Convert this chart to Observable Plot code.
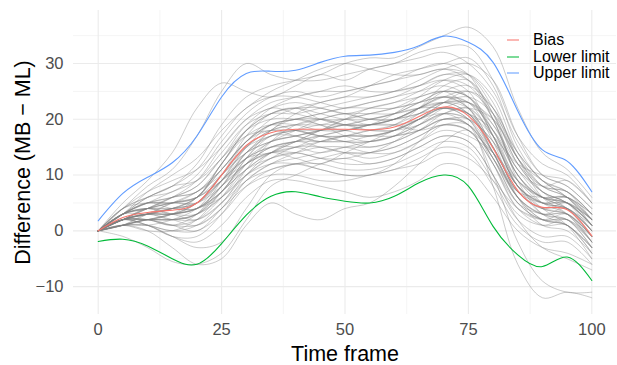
<!DOCTYPE html>
<html>
<head>
<meta charset="utf-8">
<script src="https://cdn.jsdelivr.net/npm/d3@7"></script>
<script src="https://cdn.jsdelivr.net/npm/@observablehq/plot@0.6"></script>
<style>
  body { margin: 0; background: #fff; font-family: "Liberation Sans", Arial, sans-serif; }
  #chart { position: relative; width: 617px; height: 365px; }
  #legend { position: absolute; left: 506px; top: 32px; font-size: 16px; color: #000; }
  #legend .row { display: flex; align-items: center; height: 16.5px; line-height: 16px; white-space: nowrap; }
  #legend svg { margin-right: 13px; }
</style>
</head>
<body>
<div id="chart"><div id="legend"></div></div>
<script>
// Time frame sampled every 5 units
const frames = [0, 5, 10, 15, 20, 25, 30, 35, 40, 45, 50, 55, 60, 65, 70, 75, 80, 85, 90, 95, 100];

// Summary curves (mean difference and 95% limits of agreement)
const bias       = [0, 2.4, 3.3, 3.7, 5.0, 10.0, 15.3, 17.6, 18.2, 18.2, 18.2, 18.1, 18.6, 20.5, 22.2, 20.6, 14.8, 7.2, 4.2, 3.8, -0.9];
const lowerLimit = [-1.9, -1.5, -2.7, -5.0, -6.0, -2.3, 2.8, 6.2, 7.0, 6.1, 5.3, 5.0, 6.2, 8.6, 10.0, 8.0, 0.8, -4.3, -6.4, -4.7, -8.9];
const upperLimit = [1.8, 6.7, 9.6, 12.2, 17.0, 24.0, 28.2, 28.6, 28.8, 30.2, 31.3, 31.5, 32.0, 33.2, 34.9, 33.8, 30.2, 21.5, 14.5, 12.5, 7.0];

// Individual difference curves (MB - ML), one row per subject
const traces = [
  [0, 4, 8, 11, 17, 25, 30, 28, 27, 27, 28, 29, 30, 31, 32, 30, 25, 16, 10, 8, 4],
  [0, 5, 9, 14, 22, 26.5, 25, 24, 26, 28, 27, 29, 30, 32, 33, 33, 27, 17, 12, 10, 5],
  [0, 3, 6, 8, 12, 19, 24, 26, 27, 28, 30, 31, 31, 33, 35, 36.5, 33, 22, 14, 11, 6],
  [0, 1, 0, -3, -6, -5, 1, 5, 3, 2, 4, 5, 8, 12, 16, 18, 10, -2, -9, -11, -11],
  [0, 2, 1, -1, -3, -2, 4, 10, 12, 11, 10, 10, 12, 16, 20, 19, 8, -6, -12, -11, -12],
  [0, -1, -3, -5.5, -6, -4, 2, 8, 10, 12, 13, 12, 13, 15, 17, 16, 10, 2, -3, -5, -7],
  [0, 2, 3, 2, 1, 4, 10, 14, 16, 15, 14, 14, 16, 19, 22, 23, 18, 10, 5, 3, -2],
  [0, 3, 4, 5, 6, 12, 18, 21, 22, 22, 21, 22, 23, 25, 27, 26, 20, 10, 6, 5, 1],
  [0, 2, 2, 1, 2, 6, 12, 16, 17, 18, 19, 18, 18, 20, 22, 21, 14, 6, 3, 4, 0],
  [0, 3, 5, 6, 8, 13, 19, 22, 21, 20, 20, 21, 22, 24, 25, 24, 18, 9, 6, 6, 3],
  [0, 1, 1, 0, 1, 5, 10, 13, 14, 13, 13, 14, 15, 17, 19, 18, 12, 4, 1, 1, -4],
  [0, 4, 6, 7, 10, 16, 21, 24, 25, 24, 25, 26, 27, 28, 29, 28, 22, 13, 9, 7, 2],
  [0, 2, 3, 4, 4, 8, 13, 15, 16, 17, 16, 16, 17, 19, 21, 20, 16, 8, 4, 3, -1],
  [0, 3, 4, 3, 5, 10, 15, 18, 19, 19, 20, 19, 20, 22, 24, 25, 21, 12, 7, 5, 1],
  [0, 2, 2, 2, 3, 7, 11, 14, 15, 16, 17, 17, 17, 18, 20, 19, 13, 5, 2, 2, -3],
  [0, 1, 2, 3, 5, 10, 14, 16, 17, 18, 18, 17, 18, 21, 23, 21, 15, 8, 5, 4, 0],
  [0, 3, 5, 6, 7, 11, 16, 20, 22, 23, 24, 24, 25, 26, 27, 25, 17, 8, 5, 4, 1],
  [0, 2, 1, 0, 0, 3, 8, 11, 12, 12, 11, 11, 12, 14, 16, 15, 9, 2, -1, -1, -5],
  [0, 4, 6, 8, 9, 13, 18, 20, 20, 19, 18, 19, 20, 22, 24, 22, 15, 7, 4, 5, 2],
  [0, 2, 4, 5, 6, 9, 14, 17, 18, 19, 19, 20, 21, 23, 25, 24, 19, 11, 6, 4, -1],
  [0, 1, 0, 0, 2, 7, 12, 14, 14, 13, 12, 12, 13, 15, 17, 16, 10, 3, 1, 2, -2],
  [0, 3, 3, 4, 6, 12, 17, 19, 18, 17, 17, 18, 19, 21, 23, 23, 19, 12, 8, 7, 3],
  [0, 2, 3, 3, 4, 8, 12, 15, 16, 17, 18, 19, 21, 24, 27, 28, 24, 14, 8, 6, 1],
  [0, 1, 2, 2, 3, 6, 10, 12, 12, 11, 10, 10, 11, 12, 14, 13, 9, 4, 2, 1, -3],
  [0, 3, 5, 5, 5, 9, 15, 19, 20, 21, 22, 22, 22, 23, 24, 23, 18, 10, 6, 5, 2],
  [0, 2, 2, 1, 3, 9, 15, 18, 19, 20, 21, 20, 20, 22, 25, 26, 22, 14, 9, 6, 2],
  [0, 4, 5, 5, 7, 11, 16, 18, 17, 16, 16, 15, 16, 18, 20, 19, 13, 6, 3, 3, -1],
  [0, 2, 4, 4, 5, 10, 15, 17, 18, 18, 19, 19, 19, 20, 22, 21, 15, 7, 4, 4, 0],
  [0, 1, 1, -1, -2, 1, 6, 9, 9, 8, 7, 6, 7, 9, 12, 11, 6, 0, -3, -4, -6],
  [0, 3, 6, 8, 11, 17, 22, 24, 24, 23, 22, 23, 24, 25, 26, 24, 17, 8, 5, 5, 2],
  [0, 2, 3, 4, 6, 11, 16, 19, 20, 20, 19, 19, 20, 21, 23, 22, 17, 9, 5, 4, 0],
  [0, 3, 4, 3, 3, 6, 11, 14, 16, 18, 20, 21, 22, 23, 24, 22, 15, 7, 4, 3, -1],
  [0, 2, 3, 3, 5, 9, 13, 15, 15, 14, 15, 16, 17, 19, 21, 20, 14, 6, 2, 1, -4],
  [0, 3, 5, 7, 9, 14, 19, 21, 21, 22, 23, 24, 25, 27, 29, 30, 27, 17, 10, 8, 4],
  [0, 1, 2, 2, 2, 5, 9, 11, 12, 13, 14, 14, 15, 17, 19, 18, 12, 5, 3, 3, -2],
  [0, 2, 4, 6, 8, 13, 17, 18, 18, 17, 16, 16, 17, 18, 20, 20, 16, 9, 6, 5, 1],
  [0, 4, 7, 9, 11, 15, 20, 23, 24, 25, 26, 25, 25, 26, 28, 28, 23, 13, 8, 7, 3],
  [0, 2, 2, 3, 4, 8, 14, 17, 17, 16, 17, 18, 18, 19, 21, 22, 20, 13, 7, 4, -1],
  [0, 1, 3, 3, 4, 7, 11, 13, 14, 15, 15, 14, 14, 16, 19, 19, 14, 6, 2, 1, -3],
  [0, 3, 4, 4, 6, 12, 18, 21, 22, 21, 20, 20, 21, 23, 25, 24, 17, 8, 5, 6, 2],
  [0, 2, 1, -1, -1, 3, 9, 12, 13, 14, 15, 15, 16, 18, 21, 22, 17, 8, 3, 2, -2],
  [0, 3, 5, 5, 6, 10, 16, 19, 19, 18, 18, 19, 20, 22, 23, 21, 14, 7, 5, 5, 1],
  [0, 2, 3, 4, 5, 9, 13, 16, 18, 20, 21, 21, 21, 22, 23, 23, 20, 13, 8, 6, 2],
  [0, 1, 2, 3, 4, 7, 12, 15, 16, 16, 16, 17, 18, 20, 22, 20, 12, 4, 2, 3, -1],
  [0, 2, 2, 1, 1, 4, 8, 10, 10, 9, 9, 10, 11, 13, 15, 14, 8, 1, -2, -2, -6],
  [0, 3, 7, 10, 13, 18, 22, 25, 27, 29, 30, 29, 28, 28, 29, 27, 20, 11, 8, 9, 5],
  [0, 2, 3, 2, 3, 8, 14, 18, 21, 23, 24, 26, 28, 29, 30, 31, 26, 15, 9, 7, 3],
  [0, 1, 3, 5, 6, 9, 12, 14, 13, 12, 14, 16, 18, 20, 21, 19, 13, 7, 6, 6, 2],
  [0, 2, 4, 3, 2, 5, 11, 16, 19, 20, 19, 18, 19, 22, 26, 27, 21, 9, 3, 1, -3],
  [0, 3, 4, 6, 9, 15, 20, 22, 23, 22, 21, 20, 20, 21, 22, 21, 17, 12, 10, 9, 5],
  [0, 1, 1, 2, 4, 9, 13, 14, 15, 17, 18, 19, 19, 18, 19, 18, 14, 8, 4, 1, -5],
  [0, 2, 2, 3, 6, 11, 16, 19, 20, 21, 22, 23, 24, 26, 28, 27, 21, 12, 7, 5, 0],
  [0, 3, 5, 4, 4, 7, 13, 17, 18, 17, 17, 17, 18, 20, 23, 24, 21, 14, 9, 6, 1],
  [0, 2, 3, 5, 7, 10, 14, 16, 17, 18, 20, 22, 23, 24, 25, 22, 14, 6, 3, 2, -3],
  [0, 1, 2, 2, 3, 7, 13, 18, 20, 19, 17, 16, 17, 20, 22, 20, 13, 5, 2, 2, -1],
  [0, 2, 4, 6, 7, 12, 18, 22, 24, 25, 25, 26, 27, 29, 30, 28, 20, 10, 6, 6, 3],
  [0, 2, 3, 3, 4, 6, 10, 13, 15, 15, 14, 13, 14, 16, 18, 17, 14, 9, 6, 4, 0],
  [0, 3, 4, 5, 5, 8, 12, 14, 16, 18, 19, 20, 21, 22, 22, 21, 18, 11, 7, 5, 1],
  [0, 1, 2, 1, 0, 4, 9, 12, 14, 16, 17, 17, 18, 20, 23, 25, 22, 13, 6, 3, -2],
  [0, 2, 3, 4, 5, 10, 17, 21, 22, 20, 19, 19, 20, 22, 24, 23, 16, 6, 1, 0, -4]
];

const seriesNames  = ["Bias", "Lower limit", "Upper limit"];
const seriesValues = [bias, lowerLimit, upperLimit];
const seriesColors = ["#F8766D", "#00BA38", "#619CFF"];

const xTicks = [0, 25, 50, 75, 100];
const yTicks = [-10, 0, 10, 20, 30];
const xMinor = [12.5, 37.5, 62.5, 87.5];
const yMinor = [-5, 5, 15, 25, 35];

// Long-format tables for the line marks
const traceRows = traces.flatMap((t, i) => t.map((v, j) => ({frame: frames[j], diff: v, subject: i})));
const summaryRows = seriesNames.flatMap((name, k) =>
  seriesValues[k].map((v, j) => ({frame: frames[j], diff: v, series: name})));

const gridColor = "#ebebeb";
const tickColor = "#4d4d4d";

const chart = Plot.plot({
  width: 617,
  height: 365,
  marginLeft: 73,
  marginRight: 1,
  marginTop: 10,
  marginBottom: 51,
  style: {fontFamily: "'Liberation Sans', Arial, sans-serif", background: "transparent", overflow: "visible"},
  x: {domain: [-5, 105]},
  y: {domain: [-15, 39.5]},
  color: {domain: seriesNames, range: seriesColors},
  marks: [
    Plot.ruleX(xMinor, {stroke: gridColor, strokeWidth: 0.55}),
    Plot.ruleY(yMinor, {stroke: gridColor, strokeWidth: 0.55}),
    Plot.ruleX(xTicks, {stroke: gridColor, strokeWidth: 1.1}),
    Plot.ruleY(yTicks, {stroke: gridColor, strokeWidth: 1.1}),
    Plot.axisX(xTicks, {tickSize: 0, tickPadding: 9, fontSize: 16.5, color: tickColor, label: null}),
    Plot.axisY(yTicks, {tickSize: 0, tickPadding: 10, fontSize: 16.5, color: tickColor, label: null,
      tickFormat: d => d < 0 ? "\u2212" + Math.abs(d) : String(d)}),
    Plot.line(traceRows, {x: "frame", y: "diff", z: "subject", stroke: "#7f7f7f",
      strokeOpacity: 0.4, strokeWidth: 1, curve: "catmull-rom"}),
    Plot.line(summaryRows, {x: "frame", y: "diff", z: "series", stroke: "series",
      strokeWidth: 1.1, curve: "natural"}),
    Plot.text(["Time frame"], {text: d => d, frameAnchor: "bottom", lineAnchor: "middle", dy: 40,
      fontSize: 21.5, fill: "#000"}),
    Plot.text(["Difference (MB \u2212 ML)"], {text: d => d, frameAnchor: "left", textAnchor: "middle",
      lineAnchor: "middle", rotate: -90, dx: -50, fontSize: 21.5, fill: "#000"})
  ]
});

const container = document.getElementById("chart");
container.insertBefore(chart, container.firstChild);

// Legend: short line keys with labels, placed inside the top-right of the panel
const legend = d3.select("#legend");
seriesNames.forEach((name, k) => {
  const row = legend.append("div").attr("class", "row");
  const svg = row.append("svg").attr("width", 14).attr("height", 16);
  svg.append("line").attr("x1", 1).attr("x2", 13).attr("y1", 8).attr("y2", 8)
    .attr("stroke", seriesColors[k]).attr("stroke-width", 1.3).attr("stroke-opacity", 0.8);
  row.append("span").text(name);
});
</script>
</body>
</html>
